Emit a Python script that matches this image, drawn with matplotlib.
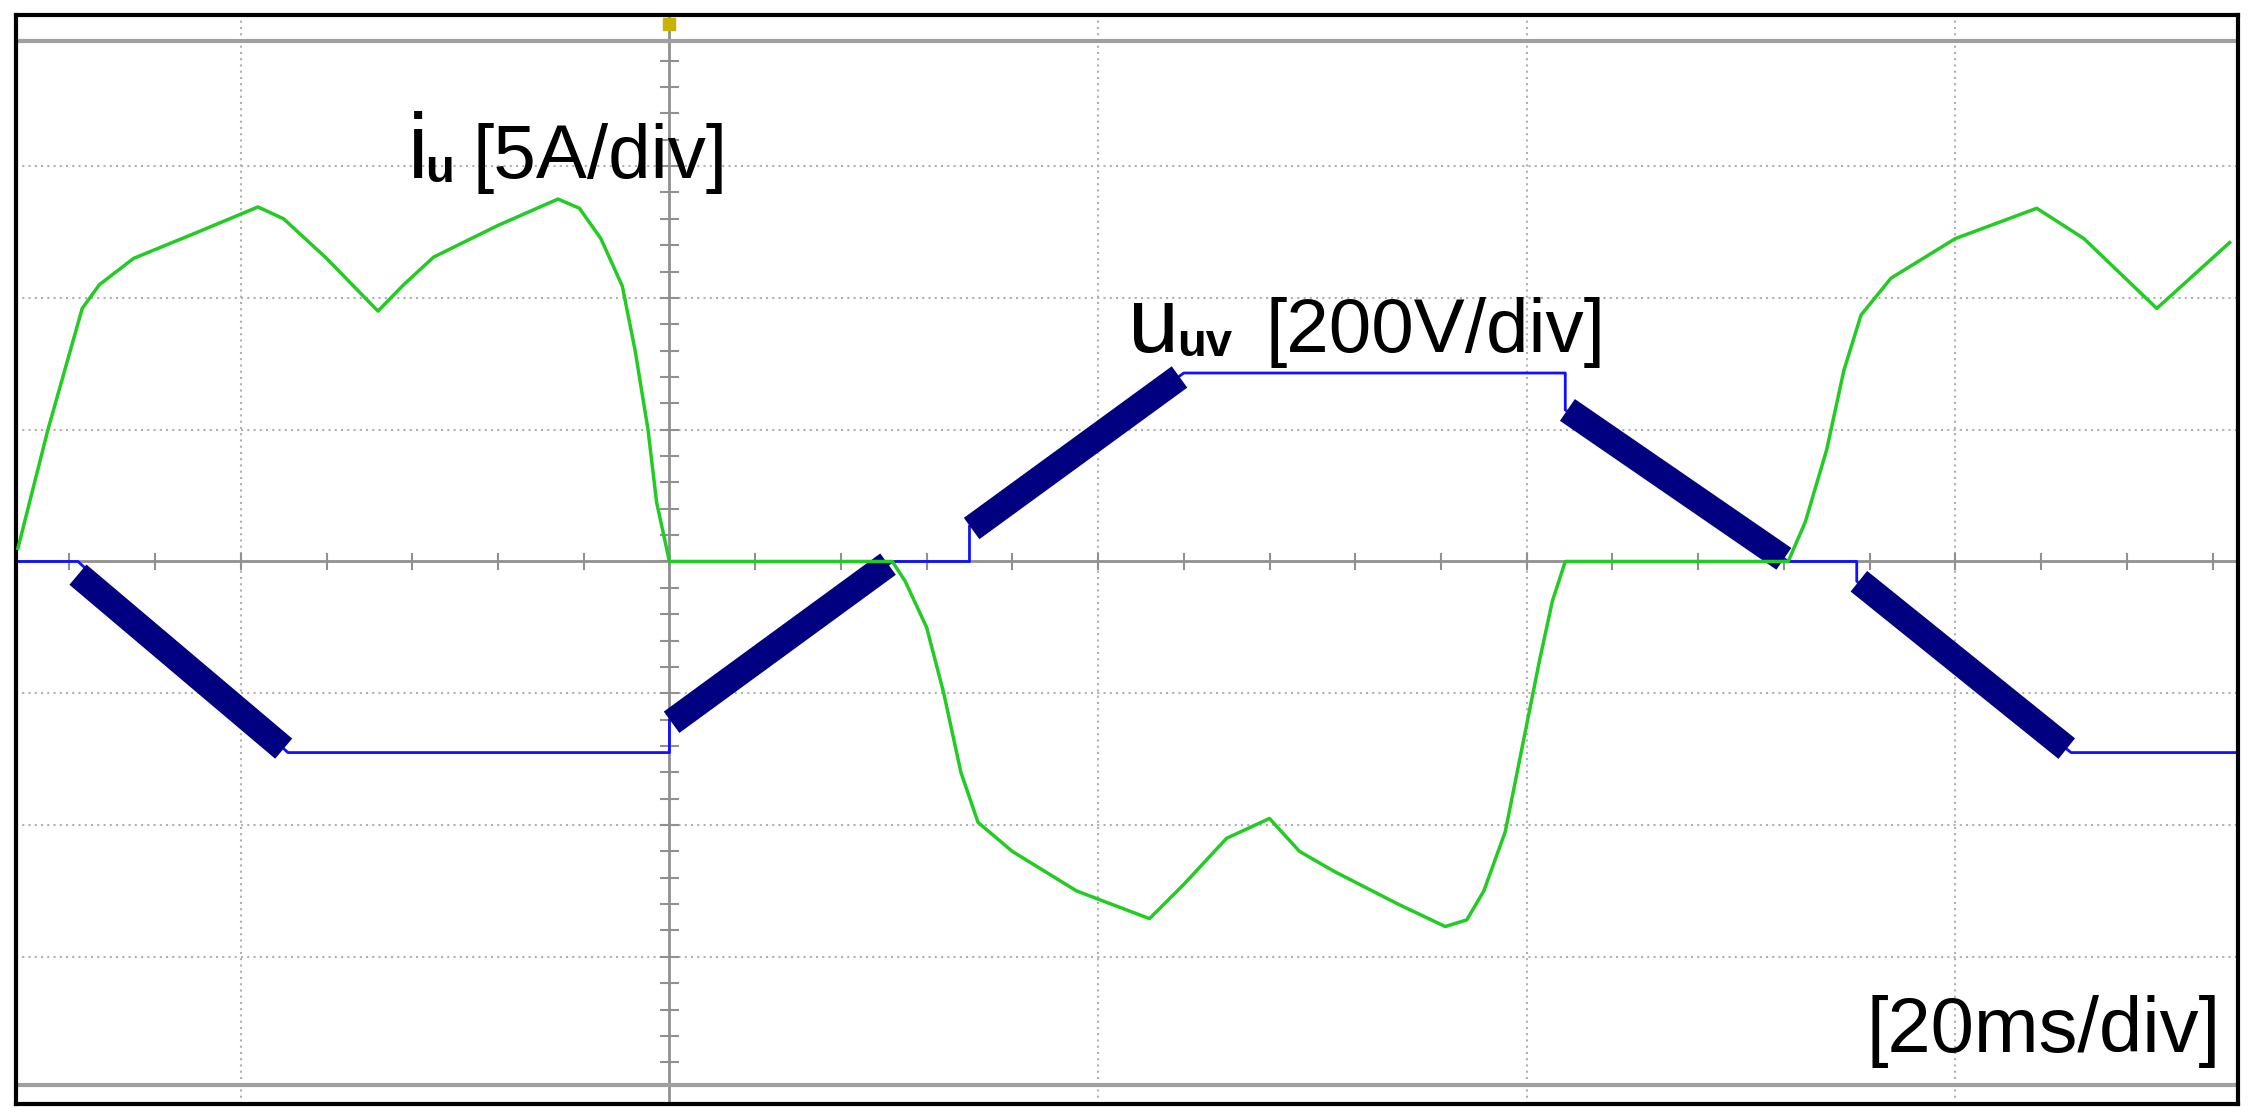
import matplotlib.pyplot as plt
import numpy as np

# positions in divisions (x: 20 ms/div, y: per-channel div)
i_t = [-1.52, -1.45, -1.37, -1.33, -1.25, -1.10, -0.96, -0.90, -0.80, -0.68, -0.62, -0.55,
       -0.40, -0.26, -0.21, -0.16, -0.11, -0.08, -0.05, -0.03, 0.0, 0.52, 0.55, 0.60,
       0.64, 0.68, 0.72, 0.80, 0.95, 1.12, 1.20, 1.30, 1.40, 1.47, 1.55, 1.70, 1.81, 1.86,
       1.90, 1.95, 1.99, 2.03, 2.06, 2.09, 2.61, 2.65, 2.70, 2.74, 2.78, 2.85, 3.00, 3.19,
       3.30, 3.47, 3.64]
i_u = [0.1, 1.0, 1.92, 2.1, 2.3, 2.5, 2.69, 2.6, 2.3, 1.90, 2.1, 2.31,
       2.55, 2.75, 2.68, 2.45, 2.09, 1.6, 1.0, 0.45, 0.0, 0.0, -0.15, -0.5,
       -1.0, -1.6, -1.98, -2.2, -2.5, -2.71, -2.45, -2.1, -1.95, -2.2, -2.35, -2.6, -2.77, -2.72,
       -2.5, -2.05, -1.4, -0.75, -0.3, 0.0, 0.0, 0.3, 0.85, 1.45, 1.87, 2.15, 2.45, 2.68,
       2.45, 1.92, 2.42]

# thin line of the voltage trace
u_t = [-1.52, -1.38, -0.89, 0.0, 0.0, 0.52, 0.70, 0.70, 1.20, 2.09, 2.09, 2.61, 2.77, 2.77, 3.27, 3.66]
u_uv = [0.0, 0.0, -1.45, -1.45, -1.20, 0.0, 0.0, 0.27, 1.43, 1.43, 1.15, 0.0, 0.0, -0.15, -1.45, -1.45]
# PWM-band segments of the voltage trace (start, end)
band_t = [(-1.38, -0.90), (0.005, 0.51), (0.705, 1.19), (2.095, 2.60), (2.775, 3.26)]
band_u = [(-0.10, -1.42), (-1.22, -0.02), (0.25, 1.40), (1.15, 0.02), (-0.15, -1.42)]

fig = plt.figure(figsize=(22.54, 11.19), dpi=100)
ax = fig.add_axes([0.007, 0.013, 0.986, 0.974])
ax.set_xlim(-1.525, 3.66)
ax.set_ylim(-4.12, 4.15)
ax.set_xticks([])
ax.set_yticks([])
for s in ax.spines.values():
    s.set_linewidth(3)
    s.set_color('black')

# graticule
grid_c = '#b0b0b0'
for x in [-1, 1, 2, 3]:
    ax.axvline(x, color=grid_c, lw=1.5, ls=(0, (1, 2)), zorder=0)
for y in [-3, -2, -1, 1, 2, 3]:
    ax.axhline(y, color=grid_c, lw=1.5, ls=(0, (1, 2)), zorder=0)
ax.axvline(0, color='#909090', lw=2, zorder=0)
ax.axhline(0, color='#909090', lw=2, zorder=0)
ax.axhline(3.95, color='#a0a0a0', lw=3, zorder=0)
ax.axhline(-3.97, color='#a0a0a0', lw=3, zorder=0)
for x in np.arange(-1.4, 3.65, 0.2):
    ax.plot([x, x], [-0.06, 0.06], color='#909090', lw=1.5, zorder=0)
for y in np.arange(-3.8, 3.9, 0.2):
    ax.plot([-0.02, 0.02], [y, y], color='#909090', lw=1.5, zorder=0)
ax.plot([0], [4.08], marker='s', color='#c8b400', ms=9, clip_on=False)

ax.plot(u_t, u_uv, color='#1010ff', lw=2, zorder=2)
for (t0, t1), (u0, u1) in zip(band_t, band_u):
    ax.plot([t0, t1], [u0, u1], color='#000080', lw=19, solid_capstyle='butt', zorder=3)
ax.plot(i_t, i_u, color='#22cc22', lw=2.5, zorder=4)

fam = 'Liberation Sans'
ax.text(-0.61, 2.91, 'i', fontsize=66, family=fam)
ax.text(-0.57, 2.88, 'u', fontsize=34, family=fam, weight='bold')
ax.text(-0.46, 2.91, '[5A/div]', fontsize=55, family=fam)
ax.text(1.07, 1.59, 'u', fontsize=66, family=fam)
ax.text(1.185, 1.56, 'uv', fontsize=34, family=fam, weight='bold')
ax.text(1.39, 1.59, '[200V/div]', fontsize=55, family=fam)
ax.text(3.62, -3.72, '[20ms/div]', fontsize=56, family=fam, ha='right')

fig.savefig('out.png', dpi=100)
